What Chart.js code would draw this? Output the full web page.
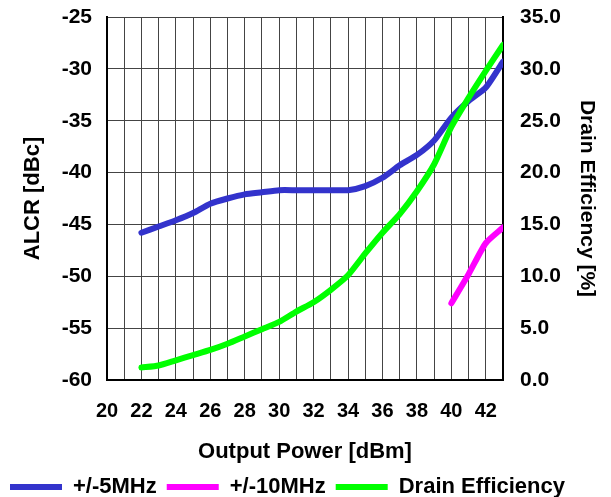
<!DOCTYPE html>
<html>
<head>
<meta charset="utf-8">
<script src="https://cdn.jsdelivr.net/npm/chart.js@4.4.1/dist/chart.umd.min.js"></script>
<style>
  html, body { margin: 0; padding: 0; background: #fff; }
  #wrap { width: 611px; height: 497px; }
</style>
</head>
<body>
<div id="wrap"><canvas id="chart-alcr"></canvas></div>
<script>
// output power [dBm]
const power = [22, 23, 24, 25, 26, 27, 28, 29, 30, 31, 32, 33, 34, 35, 36, 37, 38, 39, 40, 41, 42, 43];
// ALCR +/-5MHz [dBc]
const alcr5 = [-45.8, -45.2, -44.6, -43.9, -43.0, -42.5, -42.1, -41.9, -41.7, -41.7, -41.7, -41.7, -41.7, -41.3, -40.5, -39.3, -38.3, -36.9, -34.7, -33.1, -31.8, -29.3];
// ALCR +/-10MHz [dBc]
const power10 = [40, 41, 42, 43];
const alcr10 = [-52.6, -49.8, -46.8, -45.3];
// drain efficiency [%]
const eff = [1.2, 1.4, 1.9, 2.4, 2.9, 3.5, 4.2, 4.9, 5.6, 6.6, 7.5, 8.7, 10.1, 12.2, 14.2, 16.0, 18.2, 20.8, 24.4, 27.2, 29.8, 32.3];

const xTicks = [20, 22, 24, 26, 28, 30, 32, 34, 36, 38, 40, 42];

const pts = (xs, ys) => xs.map((x, i) => ({ x: x, y: ys[i] }));
const ff = 'Liberation Sans, Arial, sans-serif';
const tickFont = { family: ff, size: 21, weight: 'bold' };
const titleFont = { family: ff, size: 22, weight: 'bold' };

// push the legend row a bit lower, closer to the bottom edge
const legendDown = {
  id: 'legendDown',
  afterLayout(chart) { chart.legend.top += 11; chart.legend.bottom += 11; }
};

new Chart(document.getElementById('chart-alcr'), {
  type: 'line',
  data: {
    datasets: [{
      label: '+/-5MHz',
      data: pts(power, alcr5),
      borderColor: '#3333cc',
      backgroundColor: '#3333cc',
      borderWidth: 6,
      borderCapStyle: 'round',
      pointRadius: 0,
      tension: 0.2,
      yAxisID: 'y',
      order: 2
    }, {
      label: '+/-10MHz',
      data: pts(power10, alcr10),
      borderColor: '#ff00ff',
      backgroundColor: '#ff00ff',
      borderWidth: 6,
      borderCapStyle: 'round',
      pointRadius: 0,
      tension: 0.2,
      yAxisID: 'y',
      order: 1
    }, {
      label: 'Drain Efficiency',
      data: pts(power, eff),
      borderColor: '#00ff00',
      backgroundColor: '#00ff00',
      borderWidth: 6,
      borderCapStyle: 'round',
      pointRadius: 0,
      tension: 0.2,
      yAxisID: 'y2',
      order: 0
    }]
  },
  plugins: [legendDown],
  options: {
    responsive: true, maintainAspectRatio: false, animation: false,
    layout: { padding: { top: 17, left: 0, right: 0, bottom: 0 } },
    plugins: {
      tooltip: { enabled: false },
      legend: {
        position: 'bottom', align: 'start',
        labels: {
          usePointStyle: true, pointStyle: 'line', pointStyleWidth: 52,
          color: '#000', font: titleFont, padding: 10,
          sort: (a, b) => a.datasetIndex - b.datasetIndex
        }
      }
    },
    scales: {
      x: {
        type: 'linear', min: 20, max: 43,
        afterBuildTicks: s => { s.ticks = []; for (let v = 20; v <= 43; v++) s.ticks.push({ value: v }); },
        afterFit: s => { s.height = 75; },
        grid: { color: '#444', lineWidth: 1, drawTicks: false },
        border: { color: '#000', width: 2 },
        ticks: {
          color: '#000', font: { family: ff, size: 20, weight: 'bold' }, padding: 19, maxRotation: 0, autoSkip: false,
          callback: v => xTicks.includes(v) ? String(v) : ''
        },
        title: { display: true, text: 'Output Power [dBm]', color: '#000', font: titleFont, padding: { top: 0, bottom: -10 } }
      },
      y: {
        position: 'left', min: -60, max: -25,
        afterFit: s => { s.width = 107; },
        grid: { color: '#444', lineWidth: 1, drawTicks: true, tickLength: 15, tickColor: 'rgba(0,0,0,0)' },
        border: { color: '#000', width: 2 },
        ticks: { stepSize: 5, color: '#000', font: tickFont, padding: 0 },
        title: { display: true, text: 'ALCR [dBc]', color: '#000', font: titleFont, padding: { top: 20, bottom: 0 } }
      },
      y2: {
        position: 'right', min: 0, max: 35,
        afterFit: s => { s.width = 108; },
        grid: { drawOnChartArea: false, drawTicks: true, tickLength: 17, tickColor: 'rgba(0,0,0,0)' },
        border: { color: '#000', width: 2 },
        ticks: { stepSize: 5, color: '#000', font: tickFont, padding: 0, callback: v => v.toFixed(1) },
        title: { display: true, text: 'Drain Efficiency [%]', color: '#000', font: { family: ff, size: 21, weight: 'bold' }, padding: { top: 12, bottom: 0 } }
      }
    }
  }
});
</script>
</body>
</html>
